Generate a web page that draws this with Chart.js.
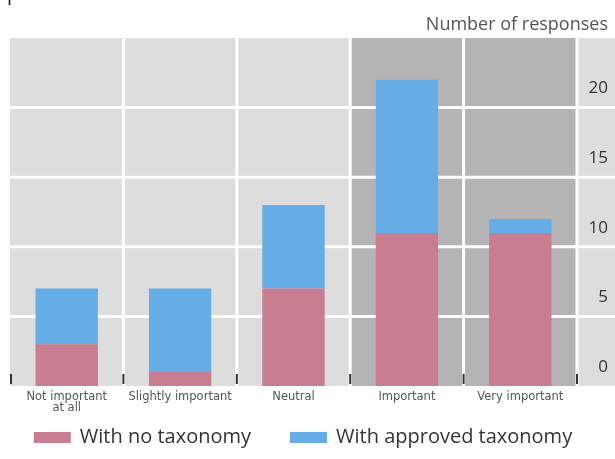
<!DOCTYPE html>
<html>
<head>
<meta charset="utf-8">
<script src="https://cdn.jsdelivr.net/npm/chart.js@4"></script>
<style>
  html, body { margin: 0; padding: 0; background: #fff; }
  #wrap { width: 615px; height: 459px; position: relative; }
</style>
</head>
<body>
<div id="wrap"><canvas id="myChart"></canvas></div>
<script>
// data
const categories = [['Not important', 'at all'], 'Slightly important', 'Neutral', 'Important', 'Very important'];
const noTaxonomy = [3, 1, 7, 11, 11];
const approvedTaxonomy = [4, 6, 6, 11, 1];
const yTicks = [0, 5, 10, 15, 20];
const darkCategories = [3, 4];

const pink = '#c97d91';
const blue = '#65ade6';
const lightBg = '#dddddd';
const darkBg = '#b4b4b4';

const ctx = document.getElementById('myChart');

// background panels, white grid and the little tick marks
const panelPlugin = {
    id: 'panels',
    beforeDraw(chart) {
        const c = chart.ctx;
        const area = chart.chartArea;
        const xs = chart.scales.x;
        const ys = chart.scales.y;
        const n = categories.length;

        // category edges
        let edges = [area.left];
        for (let i = 0; i < n - 1; i++) {
            edges.push((xs.getPixelForValue(i) + xs.getPixelForValue(i + 1)) / 2);
        }
        edges.push(area.right);

        c.save();
        c.fillStyle = lightBg;
        c.fillRect(area.left, area.top, chart.width - area.left, area.bottom - area.top);
        c.fillStyle = darkBg;
        darkCategories.forEach(i => {
            c.fillRect(edges[i], area.top, edges[i + 1] - edges[i], area.bottom - area.top);
        });

        c.strokeStyle = '#ffffff';
        c.lineWidth = 3;
        yTicks.forEach(v => {
            if (v === 0) return;
            const y = ys.getPixelForValue(v);
            c.beginPath();
            c.moveTo(area.left, y);
            c.lineTo(chart.width, y);
            c.stroke();
        });
        for (let i = 1; i < edges.length; i++) {
            c.beginPath();
            c.moveTo(edges[i], area.top);
            c.lineTo(edges[i], area.bottom);
            c.stroke();
        }

        // titles
        c.fillStyle = '#555555';
        c.font = '18px "Open Sans"';
        c.textAlign = 'right';
        c.textBaseline = 'middle';
        c.fillText('Number of responses', 608, 25);

        c.fillStyle = '#222222';
        c.font = '20px "Open Sans"';
        c.textAlign = 'left';
        c.textBaseline = 'alphabetic';
        c.fillText('processes', 7, -0.5);
        c.restore();

        chart.$edges = edges;
    },
    afterDatasetsDraw(chart) {
        const c = chart.ctx;
        const area = chart.chartArea;
        const edges = chart.$edges || [];
        c.save();
        c.strokeStyle = '#333333';
        c.lineWidth = 2;
        edges.forEach((x, i) => {
            const px = i === 0 ? x + 1 : x;
            c.beginPath();
            c.moveTo(px, area.bottom - 12);
            c.lineTo(px, area.bottom - 2);
            c.stroke();
        });
        c.restore();
    },
    // legend drawn by hand so the spacing matches
    afterDraw(chart) {
        const c = chart.ctx;
        const boxW = 37, boxH = 11, boxGap = 9, itemGap = 39;
        const y = 437.5;
        c.save();
        c.font = '20px "Open Sans"';
        c.textBaseline = 'middle';
        c.textAlign = 'left';
        const items = chart.data.datasets.map(ds => ({
            text: ds.label,
            color: ds.backgroundColor,
            w: boxW + boxGap + c.measureText(ds.label).width
        }));
        let total = items.reduce((s, it) => s + it.w, 0) + itemGap * (items.length - 1);
        let x = 303 - total / 2;
        items.forEach(it => {
            c.fillStyle = it.color;
            c.fillRect(x, y - boxH / 2, boxW, boxH);
            c.fillStyle = '#333333';
            c.fillText(it.text, x + boxW + boxGap, y);
            x += it.w + itemGap;
        });
        c.restore();
    }
};

const activityChart = new Chart(ctx, {
    type: 'bar',
    data: {
        labels: categories,
        datasets: [
            {
                label: 'With no taxonomy',
                data: noTaxonomy,
                backgroundColor: pink,
                borderWidth: 0,
                categoryPercentage: 1,
                barPercentage: 0.55
            },
            {
                label: 'With approved taxonomy',
                data: approvedTaxonomy,
                backgroundColor: blue,
                borderWidth: 0,
                categoryPercentage: 1,
                barPercentage: 0.55
            }
        ]
    },
    options: {
        responsive: true,
        maintainAspectRatio: false,
        animation: false,
        layout: {
            padding: { left: 10, right: 7, top: 38, bottom: 45 }
        },
        plugins: {
            tooltip: { enabled: false },
            title: { display: false },
            legend: { display: false }
        },
        scales: {
            x: {
                stacked: true,
                grid: { display: false, drawTicks: false },
                border: { display: false },
                ticks: {
                    color: '#555555',
                    padding: 5,
                    maxRotation: 0,
                    autoSkip: false,
                    font: { family: 'DejaVu Sans', size: 11.5, lineHeight: 0.96 }
                },
                afterFit(scale) { scale.height = 28; }
            },
            y: {
                stacked: true,
                position: 'right',
                min: 0,
                max: 25,
                grid: { display: false, drawTicks: false },
                border: { display: false },
                ticks: {
                    stepSize: 5,
                    crossAlign: 'far',
                    padding: 3,
                    labelOffset: -19,
                    color: '#333333',
                    font: { family: 'Open Sans', size: 17 },
                    callback: function (value) {
                        return yTicks.includes(value) ? value : '';
                    }
                },
                afterFit(scale) { scale.width = 31; }
            }
        }
    },
    plugins: [panelPlugin]
});
</script>
</body>
</html>
